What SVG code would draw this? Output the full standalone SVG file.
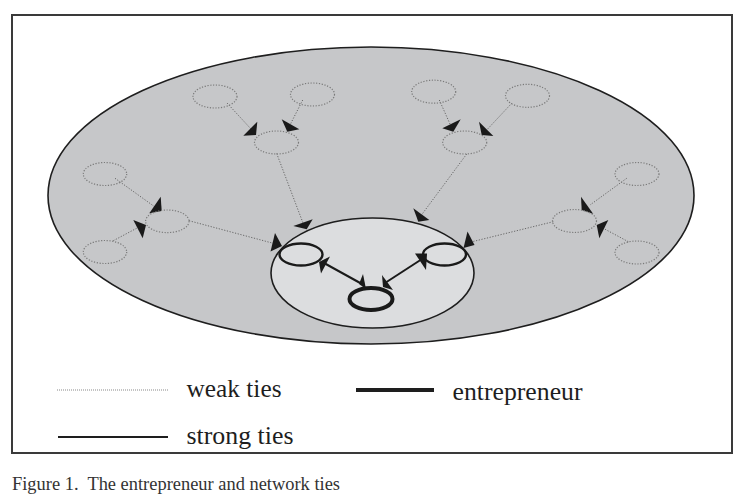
<svg xmlns="http://www.w3.org/2000/svg" width="755" height="504" viewBox="0 0 755 504">
<style>
.bg{fill:#fff}
.frame{fill:#fff;stroke:#3a3a3a;stroke-width:2}
.outer{fill:#c6c7c9;stroke:#1e1e1e;stroke-width:1.6}
.inner{fill:#dcdddf;stroke:#1e1e1e;stroke-width:1.6}
.weak-node{fill:none;stroke:#7a7a7a;stroke-width:1.2;stroke-dasharray:1.2 1.6}
.strong-node{fill:none;stroke:#1a1a1a;stroke-width:2.4}
.entre{fill:none;stroke:#1a1a1a;stroke-width:4}
.weak{fill:none;stroke:#666;stroke-width:1;stroke-dasharray:1.2 1.6}
.strong{fill:none;stroke:#1a1a1a;stroke-width:2}
.head{fill:#1a1a1a;stroke:none}
.lbl{font-family:"Liberation Serif","Times New Roman",serif;font-size:26px;fill:#1e1e1e}
.cap{font-family:"Liberation Serif","Times New Roman",serif;font-size:18px;fill:#333;white-space:pre}
</style>
<rect class="bg" x="0" y="0" width="755" height="504"/>
<rect class="frame" x="12" y="15" width="720" height="438"/>

<g id="weak-network">
  <ellipse class="outer" cx="371" cy="195.5" rx="323" ry="148.5"/>
</g>
<g id="strong-network">
  <ellipse class="inner" cx="372.5" cy="273" rx="101.5" ry="55"/>
</g>

<g id="connectors">
  <!-- weak ties: top-left cluster -->
  <line class="weak" x1="227" y1="103" x2="251" y2="129"/>
  <polygon class="head" points="257.3,121.7 243.3,135.7 256,135"/>
  <line class="weak" x1="302.7" y1="100" x2="290" y2="125"/>
  <polygon class="head" points="281.7,119.3 299.3,129.3 287.3,131.7"/>
  <line class="weak" x1="276.7" y1="153.5" x2="303" y2="223"/>
  <polygon class="head" points="293.3,226 312.7,219.3 306.7,229.3"/>
  <!-- weak ties: top-right cluster -->
  <line class="weak" x1="439.3" y1="100" x2="450" y2="124"/>
  <polygon class="head" points="442.3,128.3 460.7,119.3 453.3,131.7"/>
  <line class="weak" x1="511.7" y1="103.3" x2="486.7" y2="130"/>
  <polygon class="head" points="479,121.7 493.3,136 481.7,135"/>
  <line class="weak" x1="466.7" y1="154" x2="420" y2="217"/>
  <polygon class="head" points="413.3,208.3 429.3,220 418.3,221.7"/>
  <!-- weak ties: left cluster -->
  <line class="weak" x1="115" y1="178.3" x2="155" y2="207"/>
  <polygon class="head" points="160.7,196.7 149.3,213.3 161.7,211"/>
  <line class="weak" x1="113.3" y1="240.7" x2="139" y2="227"/>
  <polygon class="head" points="133.3,220 146,225 142.7,238.3"/>
  <line class="weak" x1="189" y1="220.7" x2="274" y2="243.5"/>
  <polygon class="head" points="275,233 270.5,251.5 282,246"/>
  <!-- weak ties: right cluster -->
  <line class="weak" x1="626.7" y1="178.3" x2="590" y2="205"/>
  <polygon class="head" points="581,196.7 593.3,214 581.7,210"/>
  <line class="weak" x1="628.3" y1="241.7" x2="603.3" y2="228.3"/>
  <polygon class="head" points="596.7,225 608.3,220 599.3,238.3"/>
  <line class="weak" x1="553.3" y1="221.7" x2="471" y2="242"/>
  <polygon class="head" points="467.5,231.5 463.5,248 474.5,245"/>
  <!-- strong ties -->
  <line class="strong" x1="362" y1="284" x2="324" y2="263"/>
  <polygon class="head" points="330,256.5 319,262 321,273.5"/>
  <polygon class="head" points="359,284 363,274 366,289"/>
  <line class="strong" x1="385" y1="283" x2="422" y2="259"/>
  <polygon class="head" points="415,253.5 427,253.5 426,270"/>
  <polygon class="head" points="382,275 393,290 383,287"/>
</g>

<g id="node-tl1"><ellipse class="weak-node" cx="215" cy="96.5" rx="22" ry="11.5"/></g>
<g id="node-tl2"><ellipse class="weak-node" cx="312.5" cy="94.5" rx="22" ry="11.5"/></g>
<g id="node-tl-mid"><ellipse class="weak-node" cx="276.5" cy="142.5" rx="22" ry="11.5"/></g>
<g id="node-tr1"><ellipse class="weak-node" cx="433.7" cy="91.7" rx="22" ry="11.5"/></g>
<g id="node-tr2"><ellipse class="weak-node" cx="527.5" cy="95.8" rx="22" ry="11.5"/></g>
<g id="node-tr-mid"><ellipse class="weak-node" cx="464.7" cy="142.5" rx="22" ry="11.5"/></g>
<g id="node-l1"><ellipse class="weak-node" cx="105" cy="174" rx="21.7" ry="11.5"/></g>
<g id="node-l2"><ellipse class="weak-node" cx="105" cy="252" rx="21.7" ry="11.5"/></g>
<g id="node-l-mid"><ellipse class="weak-node" cx="167.3" cy="221.3" rx="21.7" ry="11.3"/></g>
<g id="node-r1"><ellipse class="weak-node" cx="637" cy="174" rx="22" ry="11.5"/></g>
<g id="node-r2"><ellipse class="weak-node" cx="637" cy="252.5" rx="22" ry="11.5"/></g>
<g id="node-r-mid"><ellipse class="weak-node" cx="574.5" cy="221" rx="22" ry="11.5"/></g>
<g id="node-strong-left"><ellipse class="strong-node" cx="301" cy="254.5" rx="21.5" ry="11"/></g>
<g id="node-strong-right"><ellipse class="strong-node" cx="444.5" cy="254.5" rx="21.5" ry="11"/></g>
<g id="node-entrepreneur"><ellipse class="entre" cx="371" cy="299" rx="21.5" ry="11"/></g>

<g id="legend">
  <line class="weak" x1="57" y1="390" x2="168" y2="390" style="stroke:#888;stroke-dasharray:1 1"/>
  <text class="lbl" x="186.5" y="396.5" textLength="95" lengthAdjust="spacingAndGlyphs">weak ties</text>
  <line x1="356" y1="390" x2="434" y2="390" style="stroke:#1e1e1e;stroke-width:4"/>
  <text class="lbl" x="452.5" y="400" textLength="130" lengthAdjust="spacingAndGlyphs">entrepreneur</text>
  <line x1="58" y1="437" x2="168" y2="437" style="stroke:#1e1e1e;stroke-width:2"/>
  <text class="lbl" x="186.5" y="443.5" textLength="107" lengthAdjust="spacingAndGlyphs">strong ties</text>
</g>

<text class="cap" x="12" y="489.5" textLength="328" lengthAdjust="spacingAndGlyphs">Figure 1.  The entrepreneur and network ties</text>
</svg>
